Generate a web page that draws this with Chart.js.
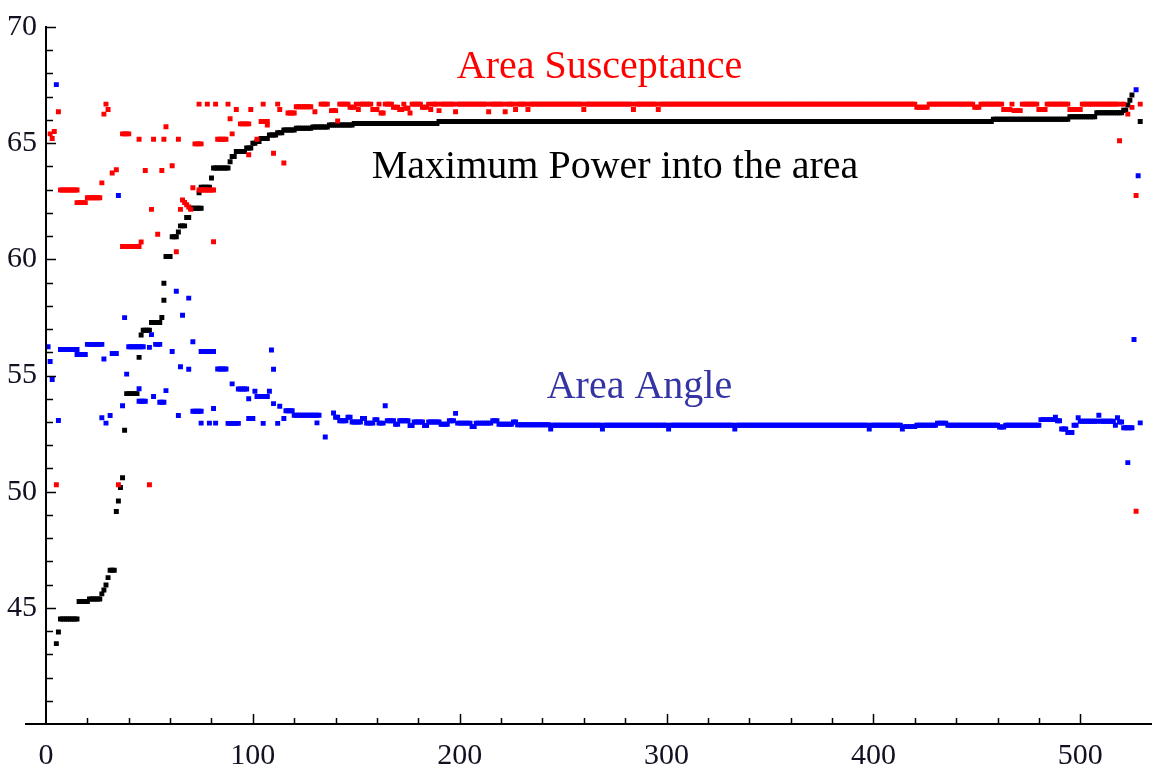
<!DOCTYPE html>
<html>
<head>
<meta charset="utf-8">
<script src="https://cdn.jsdelivr.net/npm/chart.js@4/dist/chart.umd.min.js"></script>
<style>
  html, body { margin: 0; padding: 0; background: #fff; }
  #wrap { width: 1152px; height: 768px; }
</style>
</head>
<body>
<div id="wrap"><canvas id="chart" width="1152" height="768"></canvas></div>
<script>
// runs: [first x, last x, value]; one point per integer x
const redRuns = [
  [2, 2, 65.4], [3, 3, 65.2], [4, 4, 65.5], [5, 5, 50.3], [6, 6, 66.35],
  [7, 15, 62.98], [15, 19, 62.44], [20, 26, 62.65],
  [27, 27, 63.29], [28, 28, 66.25], [29, 29, 66.68], [30, 30, 66.45],
  [32, 32, 63.72], [34, 34, 63.86], [35, 35, 50.3],
  [37, 40, 65.4], [37, 45, 60.55], [45, 45, 65.17], [46, 46, 60.75],
  [48, 48, 63.82], [50, 50, 50.3], [51, 51, 62.15], [52, 52, 65.17], [54, 54, 61.08],
  [56, 56, 63.82], [57, 57, 65.17], [58, 58, 65.71], [61, 61, 64.03], [63, 63, 60.33],
  [64, 64, 65.17], [65, 65, 62.15], [66, 66, 62.55], [67, 67, 62.45], [68, 68, 62.35],
  [69, 69, 62.25], [70, 70, 62.15], [71, 71, 63.08], [72, 75, 64.97], [74, 81, 62.98],
  [74, 74, 66.68], [78, 78, 66.68], [81, 81, 60.76], [82, 82, 66.68],
  [83, 87, 65.17], [88, 88, 66.68], [89, 89, 66.05], [90, 90, 65.4], [92, 92, 66.45],
  [94, 98, 65.83], [98, 98, 64.5], [99, 99, 66.45], [102, 102, 65.17], [104, 107, 65.93],
  [105, 105, 66.68], [107, 107, 65.78], [110, 110, 64.57], [112, 112, 66.68], [113, 113, 66.45],
  [115, 115, 64.15], [117, 120, 66.3], [121, 128, 66.57], [130, 130, 66.35],
  [133, 136, 66.68], [138, 140, 66.4], [141, 141, 65.95],
  [142, 146, 66.68], [147, 149, 66.55], [150, 150, 66.68], [151, 151, 66.45], [152, 157, 66.68],
  [158, 160, 66.45], [161, 161, 66.68], [162, 163, 66.3], [164, 167, 66.68], [168, 170, 66.55],
  [171, 172, 66.45], [173, 173, 66.68], [174, 175, 66.5], [176, 176, 66.3], [177, 181, 66.68],
  [182, 184, 66.55], [185, 185, 66.68], [186, 186, 66.45], [187, 189, 66.68], [190, 190, 66.4],
  [191, 197, 66.68], [198, 198, 66.35], [199, 213, 66.68], [214, 214, 66.35], [215, 221, 66.68],
  [222, 222, 66.35], [223, 226, 66.68], [227, 227, 66.45], [228, 232, 66.68], [233, 233, 66.45],
  [234, 259, 66.68], [260, 260, 66.45], [261, 283, 66.68], [284, 284, 66.45], [285, 295, 66.68],
  [296, 296, 66.45], [297, 420, 66.68], [421, 426, 66.55], [427, 448, 66.68], [449, 451, 66.55],
  [452, 462, 66.68], [463, 466, 66.45], [467, 467, 66.68], [468, 471, 66.4], [472, 479, 66.68],
  [480, 483, 66.45], [484, 494, 66.68], [495, 500, 66.45], [501, 518, 66.68],
  [519, 519, 65.1], [520, 521, 66.68], [523, 523, 66.25], [525, 525, 66.54],
  [527, 527, 62.75], [527, 527, 49.16], [529, 529, 66.68]
];

const blueRuns = [
  [1, 1, 56.24], [2, 2, 55.6], [3, 3, 54.83], [5, 5, 67.52], [6, 6, 53.06],
  [7, 15, 56.12], [15, 19, 55.9], [20, 27, 56.34], [27, 27, 53.18], [28, 28, 55.71],
  [29, 29, 52.95], [31, 31, 53.28], [32, 34, 55.95], [35, 35, 62.75],
  [37, 37, 53.7], [38, 38, 57.49], [39, 39, 55.06], [40, 47, 56.24], [45, 45, 54.43],
  [45, 48, 53.89], [50, 50, 56.21], [51, 51, 56.76], [52, 52, 54.1], [53, 55, 56.34],
  [55, 57, 53.85], [58, 58, 54.35], [61, 61, 56.03], [63, 63, 58.63], [64, 64, 53.28],
  [65, 65, 55.38], [66, 66, 57.59], [69, 69, 55.27], [69, 69, 58.33], [71, 71, 56.45],
  [71, 75, 53.46], [75, 81, 56.03], [75, 75, 52.95], [79, 79, 52.95], [81, 81, 53.58],
  [82, 82, 52.95], [83, 87, 55.28], [88, 93, 52.94], [90, 90, 54.64], [93, 97, 54.42],
  [98, 98, 54.0], [98, 100, 53.15], [101, 101, 54.32], [102, 107, 54.1], [105, 105, 52.94],
  [108, 108, 54.32], [109, 109, 56.1], [110, 110, 55.27], [110, 110, 53.79], [112, 112, 52.94],
  [113, 113, 53.68], [115, 115, 53.15], [116, 119, 53.48], [120, 132, 53.29], [131, 131, 52.96],
  [135, 135, 52.35], [139, 139, 53.39],
  [140, 141, 53.2], [142, 145, 53.05], [146, 147, 53.2], [148, 152, 53.0], [153, 154, 53.15],
  [155, 158, 52.95], [159, 160, 53.1], [161, 163, 52.95], [164, 164, 53.7], [165, 168, 53.05],
  [169, 170, 52.9], [171, 175, 53.05], [176, 177, 52.85], [178, 182, 53.0], [183, 184, 52.85],
  [185, 190, 53.0], [191, 194, 52.9], [195, 197, 53.05], [198, 198, 53.37], [199, 205, 52.95],
  [206, 207, 52.8], [208, 215, 52.95], [216, 218, 53.05], [219, 225, 52.9], [226, 227, 53.0],
  [228, 243, 52.88], [244, 244, 52.7], [245, 268, 52.86], [269, 269, 52.7], [270, 300, 52.86],
  [301, 301, 52.7], [302, 332, 52.86], [333, 333, 52.7], [334, 397, 52.86], [398, 398, 52.7],
  [399, 413, 52.86], [414, 414, 52.7], [415, 420, 52.8], [421, 430, 52.86], [431, 435, 52.95],
  [436, 460, 52.86], [461, 463, 52.78], [464, 480, 52.86],
  [481, 487, 53.1], [488, 488, 53.2], [489, 490, 53.05], [491, 493, 52.7], [494, 496, 52.55],
  [497, 498, 52.86], [499, 499, 53.18], [500, 508, 53.03], [509, 509, 53.29], [510, 516, 53.03],
  [517, 517, 52.86], [518, 518, 53.18], [519, 520, 53.0], [521, 525, 52.75], [523, 523, 51.25],
  [526, 526, 56.55], [527, 527, 67.3], [528, 528, 63.6], [529, 529, 52.96]
];

const blackRuns = [
  [5, 5, 43.46], [6, 6, 43.96], [7, 15, 44.52], [16, 20, 45.27], [21, 26, 45.38],
  [27, 27, 45.6], [28, 28, 45.77], [29, 29, 45.98], [30, 30, 46.3], [31, 33, 46.62],
  [34, 34, 49.15], [35, 35, 49.6], [36, 36, 50.18], [37, 37, 50.6], [38, 38, 52.64],
  [39, 44, 54.22], [45, 45, 55.78], [46, 46, 56.74], [47, 50, 56.95], [51, 55, 57.28],
  [56, 56, 57.5], [57, 57, 58.24], [57, 57, 58.97], [58, 60, 60.12], [61, 63, 60.97],
  [64, 64, 61.18], [65, 67, 61.44], [68, 69, 61.8], [70, 75, 62.2], [74, 74, 62.86],
  [75, 79, 63.1], [80, 80, 63.5], [81, 88, 63.93], [89, 89, 64.2], [90, 91, 64.43],
  [92, 96, 64.64], [97, 99, 64.79], [100, 101, 65.0], [102, 103, 65.07], [104, 107, 65.2],
  [108, 111, 65.35], [112, 114, 65.45], [115, 120, 65.57], [121, 128, 65.64], [129, 136, 65.7],
  [137, 148, 65.78], [149, 189, 65.85], [190, 457, 65.93], [458, 494, 66.03], [495, 507, 66.14],
  [508, 520, 66.31], [521, 522, 66.42], [523, 523, 66.64], [524, 524, 66.85], [525, 525, 67.07],
  [529, 529, 65.93]
];

const seriesNames = ['Area Susceptance', 'Area Angle', 'Maximum Power into the area'];
const seriesColors = ['#ff0000', '#0000ff', '#000000'];

const xMin = 0, xMax = 533;
const yMin = 40, yMax = 70;

function expand(runs) {
  const pts = [];
  runs.forEach(r => {
    for (let x = r[0]; x <= r[1]; x++) pts.push({ x: x, y: r[2] });
  });
  return pts;
}

// text labels placed in data coordinates (baseline, centred)
const notes = [
  { text: 'Area Susceptance', x: 267.6, y: 67.8, color: '#ff0000' },
  { text: 'Maximum Power into the area', x: 275.1, y: 63.5, color: '#000000' },
  { text: 'Area Angle', x: 286.9, y: 54.05, color: '#3434a4' }
];

const axisPlugin = {
  id: 'axisPlugin',
  afterDraw(chart) {
    const ctx = chart.ctx;
    const xs = chart.scales.x, ys = chart.scales.y;
    const area = chart.chartArea;
    ctx.save();
    ctx.strokeStyle = '#000';
    ctx.lineWidth = 2;
    ctx.beginPath();
    ctx.moveTo(area.left, area.top - 1);
    ctx.lineTo(area.left, area.bottom);
    ctx.moveTo(area.left - 21, area.bottom);
    ctx.lineTo(chart.width, area.bottom);
    ctx.stroke();

    ctx.lineWidth = 1.5;
    ctx.beginPath();
    ys.ticks.forEach(t => {
      const v = t.value;
      if (v !== Math.round(v) || v === yMin) return;
      const py = Math.round(ys.getPixelForValue(v)) + 0.5;
      const len = v % 5 === 0 ? 10 : 7;
      ctx.moveTo(area.left, py);
      ctx.lineTo(area.left + len, py);
    });
    xs.ticks.forEach(t => {
      const v = t.value;
      if (v % 20 !== 0 || v === 0) return;
      const px = Math.round(xs.getPixelForValue(v)) + 0.5;
      const len = v % 100 === 0 ? 10 : 6;
      ctx.moveTo(px, area.bottom);
      ctx.lineTo(px, area.bottom - len);
    });
    ctx.stroke();

    ctx.font = '40px "Liberation Serif"';
    ctx.textAlign = 'center';
    ctx.textBaseline = 'alphabetic';
    notes.forEach(n => {
      ctx.fillStyle = n.color;
      ctx.fillText(n.text, xs.getPixelForValue(n.x), ys.getPixelForValue(n.y));
    });
    ctx.restore();
  }
};

const ctx = document.getElementById('chart').getContext('2d');

const chart = new Chart(ctx, {
  type: 'scatter',
  data: {
    datasets: [
      {
        label: seriesNames[0],
        data: expand(redRuns),
        backgroundColor: seriesColors[0],
        borderColor: seriesColors[0]
      },
      {
        label: seriesNames[1],
        data: expand(blueRuns),
        backgroundColor: seriesColors[1],
        borderColor: seriesColors[1]
      },
      {
        label: seriesNames[2],
        data: expand(blackRuns),
        backgroundColor: seriesColors[2],
        borderColor: seriesColors[2]
      }
    ]
  },
  options: {
    responsive: false,
    animation: false,
    layout: { padding: { top: 23, right: 0, left: 0, bottom: 0 } },
    elements: {
      point: { pointStyle: 'rect', radius: 3.5, borderWidth: 0, hoverRadius: 3.5 }
    },
    plugins: {
      legend: { display: false },
      tooltip: { enabled: false }
    },
    scales: {
      x: {
        type: 'linear',
        min: xMin,
        max: xMax,
        grid: { display: false, drawTicks: false },
        border: { display: false },
        afterFit: s => { s.height = 44; s.paddingLeft = 0; s.paddingRight = 0; },
        ticks: {
          stepSize: 20,
          autoSkip: false,
          maxRotation: 0,
          padding: 14,
          color: '#111122',
          font: { family: 'Liberation Serif', size: 30 },
          callback: v => (v % 100 === 0 ? String(v) : '')
        }
      },
      y: {
        type: 'linear',
        min: yMin,
        max: yMax,
        grid: { display: false, drawTicks: false },
        border: { display: false },
        afterFit: s => { s.width = 46; },
        ticks: {
          stepSize: 1,
          autoSkip: false,
          padding: 9,
          color: '#111122',
          font: { family: 'Liberation Serif', size: 30 },
          callback: v => (v % 5 === 0 && v > yMin ? String(v) : '')
        }
      }
    }
  },
  plugins: [axisPlugin]
});
</script>
</body>
</html>
